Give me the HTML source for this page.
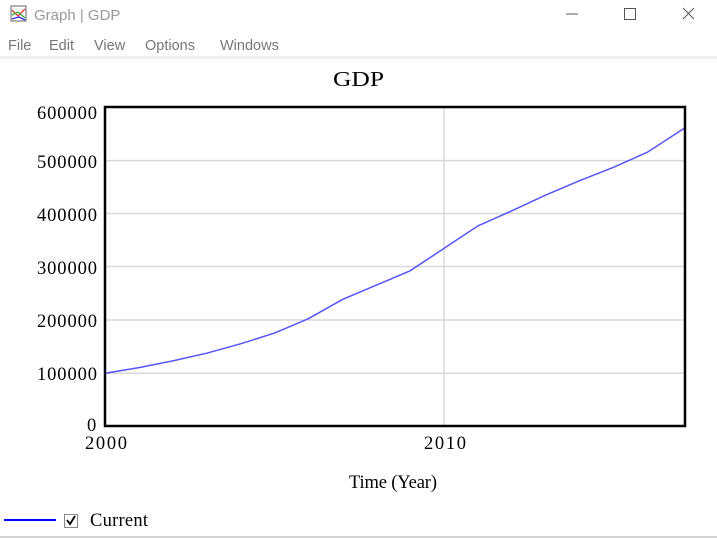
<!DOCTYPE html>
<html><head><meta charset="utf-8"><style>
body{margin:0;width:717px;height:539px;background:#fff;overflow:hidden;position:relative}
</style></head><body>
<svg width="717" height="539" xmlns="http://www.w3.org/2000/svg" style="position:absolute;left:0;top:0">
<rect x="0" y="0" width="717" height="539" fill="#fff"/>
<rect x="11" y="6" width="15" height="15" fill="#fff" stroke="#666" stroke-width="1"/>
<polyline points="12,10 18,16 25,9" fill="none" stroke="#e33" stroke-width="1.3"/>
<polyline points="12,15 18,12 25,18" fill="none" stroke="#3a3" stroke-width="1.3"/>
<polyline points="12,19 19,17 25,20" fill="none" stroke="#33e" stroke-width="1.3"/>
<text x="34" y="20" font-family="Liberation Sans, sans-serif" font-size="15" fill="#999">Graph | GDP</text>
<line x1="566" y1="14" x2="578" y2="14" stroke="#555" stroke-width="1"/>
<rect x="624.5" y="8.5" width="11" height="11" fill="none" stroke="#555"/>
<line x1="683" y1="8" x2="694" y2="19" stroke="#555"/><line x1="694" y1="8" x2="683" y2="19" stroke="#555"/>
<text font-family="Liberation Sans, sans-serif" font-size="14.5" fill="#777" y="50">
<tspan x="8">File</tspan><tspan x="49">Edit</tspan><tspan x="94">View</tspan><tspan x="145">Options</tspan><tspan x="220">Windows</tspan></text>
<rect x="0" y="56" width="717" height="3" fill="#f0f0f0"/>
<text x="333" y="86" textLength="51" lengthAdjust="spacingAndGlyphs" font-family="Liberation Serif, serif" font-size="21">GDP</text>
<g stroke="#d8d8d8" stroke-width="1.5">
<line x1="105" y1="160.6" x2="685" y2="160.6"/><line x1="105" y1="213.5" x2="685" y2="213.5"/>
<line x1="105" y1="266.5" x2="685" y2="266.5"/><line x1="105" y1="320" x2="685" y2="320"/>
<line x1="105" y1="373.3" x2="685" y2="373.3"/><line x1="444" y1="107" x2="444" y2="426"/>
</g>
<polyline fill="none" stroke="#5555ff" stroke-width="1.5" points="105,373.3 138.9,367.6 172.8,360.9 206.7,353.2 240.6,343.8 274.5,333.1 308.4,318.7 342.3,299.6 376.2,285.2 410.1,270.8 444,248.4 477.9,225.9 511.8,210.8 545.7,195.1 579.6,180.7 613.5,167.3 647.4,152.2 685,127.8"/>
<rect x="105" y="107" width="580" height="319" fill="none" stroke="#000" stroke-width="2.5"/>
<g font-family="Liberation Serif, serif" font-size="18.5" lengthAdjust="spacingAndGlyphs">
<text x="37" y="119" textLength="60">600000</text><text x="37" y="168" textLength="60">500000</text><text x="37" y="221" textLength="60">400000</text>
<text x="37" y="274" textLength="60">300000</text><text x="37" y="327" textLength="60">200000</text><text x="37" y="380" textLength="60">100000</text><text x="87" y="431" textLength="10">0</text>
<text x="85" y="449" textLength="42">2000</text><text x="424" y="449" textLength="42">2010</text>
<text x="349" y="488" textLength="88">Time (Year)</text>
<text x="90" y="526" textLength="58">Current</text>
</g>
<line x1="4" y1="520" x2="56" y2="520" stroke="#0000ff" stroke-width="2"/>
<rect x="64.5" y="514.5" width="13" height="13" fill="#fff" stroke="#888"/>
<polyline points="67,520 70,524 75,516" fill="none" stroke="#000" stroke-width="1.8"/>
<line x1="0" y1="537" x2="717" y2="537" stroke="#aaa" stroke-width="1"/>
</svg>
</body></html>
